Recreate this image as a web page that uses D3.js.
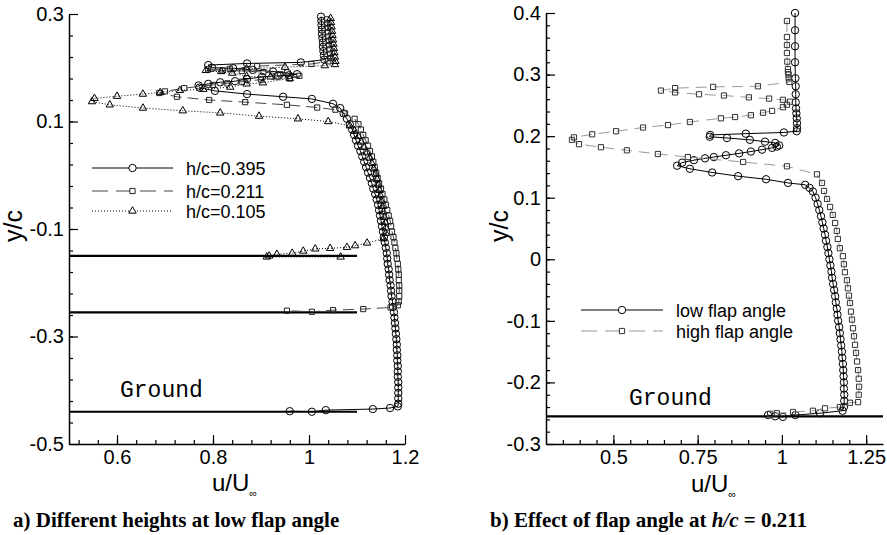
<!DOCTYPE html>
<html>
<head>
<meta charset="utf-8">
<script src="https://d3js.org/d3.v7.min.js"></script>
<style>
  body { margin: 0; background: #fff; }
  svg { display: block; font-family: "Liberation Sans", Arial, Helvetica, sans-serif; }
  .tick text { font-size: 20px; fill: #000; }
  .domain { stroke: #000; stroke-width: 1.5; }
  .tick line { stroke: #000; stroke-width: 1.2; }
</style>
</head>
<body>
<div id="root"></div>
<script>
// ---- panel a) different heights, low flap angle  [u/Uinf, y/c]
const hc395 = [
  [1.025, 0.295], [1.026, 0.287], [1.026, 0.279], [1.027, 0.271], [1.027, 0.263], [1.028, 0.255], [1.029, 0.247],
  [1.029, 0.239], [1.030, 0.231], [1.031, 0.223], [1.032, 0.215],
  [0.983, 0.210], [0.871, 0.208], [0.790, 0.205],
  [0.798, 0.200], [0.842, 0.199], [0.883, 0.196], [0.925, 0.193], [0.955, 0.190], [0.975, 0.188],
  [0.958, 0.186], [0.935, 0.185], [0.902, 0.183], [0.871, 0.179], [0.846, 0.175], [0.815, 0.173], [0.790, 0.170], [0.770, 0.167],
  [0.772, 0.163], [0.804, 0.157], [0.871, 0.151], [0.946, 0.146], [1.006, 0.142], [1.050, 0.133],
  [1.065, 0.125], [1.072, 0.115], [1.079, 0.105], [1.085, 0.095], [1.090, 0.085], [1.094, 0.075], [1.098, 0.065],
  [1.102, 0.055], [1.107, 0.045], [1.111, 0.035], [1.115, 0.025], [1.119, 0.015], [1.123, 0.005], [1.127, -0.005],
  [1.131, -0.015], [1.134, -0.025], [1.138, -0.035], [1.141, -0.045], [1.144, -0.055], [1.146, -0.065], [1.148, -0.075],
  [1.150, -0.085], [1.152, -0.095], [1.154, -0.105], [1.156, -0.115], [1.158, -0.125], [1.160, -0.135], [1.162, -0.145],
  [1.163, -0.155], [1.164, -0.165], [1.166, -0.175], [1.167, -0.185], [1.168, -0.195], [1.170, -0.205], [1.171, -0.215],
  [1.172, -0.225], [1.174, -0.235], [1.175, -0.245], [1.177, -0.255], [1.178, -0.265], [1.179, -0.275], [1.180, -0.285],
  [1.181, -0.295], [1.182, -0.305], [1.183, -0.315], [1.183, -0.325], [1.184, -0.335], [1.184, -0.345], [1.185, -0.355],
  [1.185, -0.365], [1.185, -0.375], [1.186, -0.385], [1.186, -0.395], [1.186, -0.405], [1.186, -0.415], [1.186, -0.425],
  [1.185, -0.430], [1.169, -0.433], [1.133, -0.435], [1.035, -0.437], [1.006, -0.440], [0.960, -0.439]
];
const hc211 = [
  [1.038, 0.290], [1.038, 0.282], [1.039, 0.274], [1.039, 0.266], [1.040, 0.258], [1.041, 0.250], [1.042, 0.242],
  [1.043, 0.234], [1.044, 0.226], [1.045, 0.218], [1.040, 0.212],
  [1.005, 0.207], [0.892, 0.203], [0.835, 0.198], [0.790, 0.197],
  [0.820, 0.195], [0.860, 0.194], [0.905, 0.192], [0.940, 0.188], [0.980, 0.185],
  [0.960, 0.180], [0.900, 0.178], [0.860, 0.174], [0.830, 0.171], [0.800, 0.168], [0.740, 0.162], [0.700, 0.156], [0.688, 0.153],
  [0.725, 0.146], [0.792, 0.140], [0.867, 0.136], [0.954, 0.131], [1.017, 0.126], [1.055, 0.122],
  [1.075, 0.115], [1.095, 0.105], [1.103, 0.095], [1.108, 0.085], [1.113, 0.075], [1.118, 0.065], [1.123, 0.055],
  [1.127, 0.045], [1.131, 0.035], [1.134, 0.025], [1.137, 0.015], [1.140, 0.005], [1.143, -0.005], [1.146, -0.015],
  [1.150, -0.025], [1.153, -0.035], [1.157, -0.045], [1.160, -0.055], [1.163, -0.065], [1.166, -0.075], [1.169, -0.085],
  [1.171, -0.095], [1.173, -0.105], [1.176, -0.115], [1.178, -0.125], [1.180, -0.135], [1.182, -0.145], [1.183, -0.155],
  [1.185, -0.165], [1.186, -0.175], [1.187, -0.185], [1.187, -0.195], [1.188, -0.205], [1.188, -0.215], [1.188, -0.225],
  [1.187, -0.235], [1.185, -0.242],
  [1.170, -0.246], [1.113, -0.249], [1.050, -0.251], [1.006, -0.254], [0.954, -0.252]
];
const hc105 = [
  [1.045, 0.292], [1.046, 0.284], [1.047, 0.276], [1.048, 0.268], [1.049, 0.260], [1.050, 0.252], [1.051, 0.244],
  [1.052, 0.236], [1.053, 0.228], [1.054, 0.220], [1.055, 0.212], [1.054, 0.206],
  [1.033, 0.204], [0.950, 0.201], [0.870, 0.198], [0.817, 0.193], [0.785, 0.195],
  [0.840, 0.190], [0.870, 0.184], [0.920, 0.183], [0.960, 0.180],
  [0.904, 0.172], [0.870, 0.170], [0.836, 0.164], [0.780, 0.160], [0.731, 0.158],
  [0.690, 0.154], [0.654, 0.151], [0.600, 0.147], [0.553, 0.143],
  [0.548, 0.137], [0.585, 0.131], [0.654, 0.125], [0.737, 0.120], [0.815, 0.116], [0.896, 0.110], [0.977, 0.105], [1.040, 0.100],
  [1.085, 0.092], [1.095, 0.082], [1.103, 0.072], [1.109, 0.062], [1.115, 0.052], [1.121, 0.042], [1.126, 0.032],
  [1.131, 0.022], [1.135, 0.012], [1.139, 0.002], [1.142, -0.008], [1.145, -0.018], [1.147, -0.028], [1.149, -0.038],
  [1.151, -0.048], [1.153, -0.058], [1.155, -0.068], [1.157, -0.078], [1.159, -0.088], [1.160, -0.098], [1.160, -0.108],
  [1.155, -0.118],
  [1.121, -0.126], [1.096, -0.131], [1.079, -0.134], [1.044, -0.136], [1.013, -0.137], [0.988, -0.141], [0.965, -0.145],
  [0.933, -0.147], [0.917, -0.150], [0.912, -0.152], [1.066, -0.152]
];
const groundA = [-0.15, -0.255, -0.44];
const groundAExtent = [0.5, 1.1];
const xTicksA = [0.6, 0.8, 1, 1.2];
const xLabelsA = ["0.6", "0.8", "1", "1.2"];
const yTicksA = [0.3, 0.1, -0.1, -0.3, -0.5];
const yLabelsA = ["0.3", "0.1", "-0.1", "-0.3", "-0.5"];
const legendA = ["h/c=0.395", "h/c=0.211", "h/c=0.105"];

// ---- panel b) effect of flap angle at h/c = 0.211
const lowFlap = [
  [1.039, 0.400], [1.039, 0.372], [1.039, 0.346], [1.039, 0.320], [1.040, 0.294], [1.041, 0.281], [1.041, 0.268],
  [1.041, 0.255], [1.042, 0.245], [1.043, 0.237], [1.044, 0.229], [1.045, 0.221], [1.045, 0.213], [1.044, 0.208],
  [1.006, 0.206], [0.893, 0.204], [0.787, 0.202], [0.786, 0.199],
  [0.837, 0.197], [0.905, 0.194], [0.950, 0.191], [0.980, 0.189], [0.992, 0.185], [0.985, 0.183],
  [0.971, 0.181], [0.941, 0.178], [0.908, 0.175], [0.873, 0.172], [0.834, 0.169], [0.798, 0.166], [0.772, 0.164],
  [0.739, 0.161], [0.704, 0.157], [0.689, 0.152],
  [0.727, 0.147], [0.793, 0.141], [0.870, 0.135], [0.953, 0.130], [1.018, 0.124], [1.069, 0.121], [1.082, 0.116],
  [1.092, 0.110], [1.100, 0.100], [1.106, 0.090], [1.111, 0.080], [1.116, 0.070], [1.120, 0.060], [1.124, 0.050],
  [1.128, 0.040], [1.131, 0.030], [1.135, 0.020], [1.138, 0.010], [1.141, 0.000], [1.144, -0.010], [1.147, -0.020],
  [1.149, -0.030], [1.152, -0.040], [1.155, -0.050], [1.158, -0.060], [1.160, -0.070], [1.163, -0.080], [1.165, -0.090],
  [1.167, -0.100], [1.170, -0.110], [1.172, -0.120], [1.174, -0.130], [1.176, -0.140], [1.178, -0.150], [1.179, -0.160],
  [1.181, -0.170], [1.182, -0.180], [1.183, -0.190], [1.184, -0.200], [1.184, -0.210], [1.185, -0.220], [1.185, -0.230],
  [1.184, -0.240],
  [1.180, -0.246], [1.113, -0.250], [1.040, -0.253], [1.003, -0.256], [0.980, -0.255], [0.959, -0.253]
];
const highFlap = [
  [1.015, 0.387], [1.015, 0.361], [1.015, 0.348], [1.015, 0.335], [1.016, 0.321], [1.018, 0.309], [1.018, 0.304],
  [1.020, 0.300], [1.020, 0.294], [1.022, 0.288],
  [0.929, 0.281], [0.796, 0.280], [0.683, 0.278], [0.641, 0.274],
  [0.683, 0.271], [0.754, 0.268], [0.828, 0.266], [0.902, 0.263], [0.962, 0.261], [1.003, 0.259], [1.024, 0.256],
  [1.015, 0.251], [1.003, 0.247], [0.971, 0.241], [0.944, 0.238], [0.908, 0.234], [0.861, 0.231], [0.819, 0.229],
  [0.727, 0.223], [0.662, 0.218], [0.588, 0.214], [0.508, 0.208], [0.437, 0.203], [0.383, 0.198], [0.377, 0.194],
  [0.398, 0.187], [0.463, 0.182], [0.540, 0.177], [0.632, 0.171], [0.721, 0.166], [0.885, 0.158], [1.015, 0.151],
  [1.104, 0.138],
  [1.119, 0.124], [1.125, 0.111], [1.134, 0.098], [1.143, 0.085], [1.151, 0.072], [1.158, 0.059], [1.163, 0.046],
  [1.166, 0.033], [1.172, 0.018], [1.181, 0.005], [1.184, -0.008], [1.187, -0.021], [1.193, -0.034], [1.196, -0.047],
  [1.199, -0.059], [1.202, -0.071], [1.205, -0.085], [1.208, -0.098], [1.211, -0.112], [1.214, -0.125], [1.217, -0.139],
  [1.220, -0.152], [1.223, -0.166], [1.226, -0.180], [1.228, -0.194], [1.229, -0.207], [1.228, -0.220], [1.226, -0.232],
  [1.202, -0.233], [1.172, -0.240], [1.128, -0.242], [1.092, -0.246], [1.033, -0.248], [0.985, -0.250], [0.965, -0.251]
];
const groundB = [-0.255];
const groundBExtent = [0.3, 1.3];
const xTicksB = [0.5, 0.75, 1, 1.25];
const xLabelsB = ["0.5", "0.75", "1", "1.25"];
const yTicksB = [0.4, 0.3, 0.2, 0.1, 0, -0.1, -0.2, -0.3];
const yLabelsB = ["0.4", "0.3", "0.2", "0.1", "0", "-0.1", "-0.2", "-0.3"];
const legendB = ["low flap angle", "high flap angle"];

const W = 887, H = 535;
const svg = d3.select('#root').append('svg').attr('width', W).attr('height', H);

const styles = {
  circle: { dash: null, line: '#000', mark: '#000' },
  squareA: { dash: '11,6', line: '#444', mark: '#222' },
  triangle: { dash: '1,2', line: '#000', mark: '#000' },
  squareB: { dash: '11,7', line: '#999', mark: '#333' }
};

const drawMarker = (g, shape, cx, cy) => {
  if (shape === 'circle') {
    g.append('circle').attr('cx', cx).attr('cy', cy).attr('r', 3.7);
  } else {
    const type = shape === 'square' ? d3.symbolSquare : d3.symbolTriangle;
    const size = shape === 'square' ? 27 : 24;
    g.append('path').attr('d', d3.symbol(type, size)()).attr('transform', `translate(${cx},${cy})`);
  }
};

const makePanel = (cfg) => {
  const x = d3.scaleLinear().domain(cfg.xd).range(cfg.xr);
  const y = d3.scaleLinear().domain(cfg.yd).range(cfg.yr);
  const g = svg.append('g');
  const bottom = cfg.yr[0];
  const left = cfg.xr[0];

  // minor ticks
  g.append('g').attr('transform', `translate(0,${bottom})`)
    .call(d3.axisBottom(x).tickValues(cfg.xMinor).tickSize(-4).tickFormat(''))
    .call(a => a.select('.domain').remove());
  g.append('g').attr('transform', `translate(${left},0)`)
    .call(d3.axisLeft(y).tickValues(cfg.yMinor).tickSize(-4).tickFormat(''))
    .call(a => a.select('.domain').remove());
  // major ticks
  g.append('g').attr('transform', `translate(0,${bottom})`)
    .call(d3.axisBottom(x).tickValues(cfg.xTicks).tickSizeInner(-9).tickSizeOuter(0).tickPadding(6)
      .tickFormat((d, i) => cfg.xLabels[i]));
  g.append('g').attr('transform', `translate(${left},0)`)
    .call(d3.axisLeft(y).tickValues(cfg.yTicks).tickSizeInner(-9).tickSizeOuter(0).tickPadding(5)
      .tickFormat((d, i) => cfg.yLabels[i]));
  g.selectAll('.tick text').attr('font-family', null);

  // ground lines
  g.selectAll('line.ground').data(cfg.ground).enter().append('line')
    .attr('class', 'ground')
    .attr('x1', x(cfg.groundExtent[0])).attr('x2', x(cfg.groundExtent[1]))
    .attr('y1', d => y(d)).attr('y2', d => y(d))
    .attr('stroke', '#000').attr('stroke-width', 2.2);

  const line = d3.line().x(d => x(d[0])).y(d => y(d[1]));
  cfg.series.forEach(s => {
    const st = styles[s.style];
    g.append('path').datum(s.data).attr('d', line)
      .attr('fill', 'none').attr('stroke', st.line).attr('stroke-width', 1)
      .attr('stroke-dasharray', st.dash);
    const mg = g.append('g').attr('fill', 'none').attr('stroke', st.mark).attr('stroke-width', 1);
    s.data.forEach(d => drawMarker(mg, s.shape, x(d[0]), y(d[1])));
  });

  // legend
  cfg.legend.forEach((label, i) => {
    const s = cfg.series[i];
    const st = styles[s.style];
    const ly = cfg.legendY[i];
    g.append('line').attr('x1', cfg.legendX[0]).attr('x2', cfg.legendX[1]).attr('y1', ly).attr('y2', ly)
      .attr('stroke', st.line).attr('stroke-width', 1).attr('stroke-dasharray', st.dash ? (s.style === 'triangle' ? '1,2' : '16,8') : null);
    const mg = g.append('g').attr('fill', '#fff').attr('stroke', st.mark);
    drawMarker(mg, s.shape, (cfg.legendX[0] + cfg.legendX[1]) / 2, ly);
    g.append('text').attr('x', cfg.legendX[1] + 13).attr('y', ly + 6.5)
      .attr('font-size', 18).text(label);
  });

  // Ground label
  g.append('text').attr('x', cfg.groundLabel[0]).attr('y', cfg.groundLabel[1])
    .attr('font-family', '"Liberation Mono", "Courier New", monospace').attr('font-size', 23)
    .text('Ground');

  // axis titles
  const xt = g.append('text').attr('x', cfg.xTitle[0]).attr('y', cfg.xTitle[1]).attr('font-size', 24);
  xt.append('tspan').text('u/U');
  xt.append('tspan').attr('font-size', 11).attr('dy', 6).text('∞');
  g.append('text').attr('transform', `translate(${cfg.yTitle[0]},${cfg.yTitle[1]}) rotate(-90)`)
    .attr('text-anchor', 'middle').attr('font-size', 25).text('y/c');
};

makePanel({
  xd: [0.5, 1.2], xr: [69, 405], yd: [-0.5, 0.3], yr: [444, 14],
  xTicks: xTicksA, xLabels: xLabelsA, yTicks: yTicksA, yLabels: yLabelsA,
  xMinor: d3.range(0.52, 1.2, 0.04), yMinor: d3.range(-0.46, 0.3, 0.04),
  ground: groundA, groundExtent: groundAExtent,
  series: [
    { data: hc395, shape: 'circle', style: 'circle' },
    { data: hc211, shape: 'square', style: 'squareA' },
    { data: hc105, shape: 'triangle', style: 'triangle' }
  ],
  legend: legendA, legendX: [92, 173], legendY: [168, 191, 211],
  groundLabel: [120, 397], xTitle: [212, 491], yTitle: [22, 226]
});

makePanel({
  xd: [0.3, 1.3], xr: [546, 883], yd: [-0.3, 0.4], yr: [444, 13],
  xTicks: xTicksB, xLabels: xLabelsB, yTicks: yTicksB, yLabels: yLabelsB,
  xMinor: d3.range(0.35, 1.3, 0.05), yMinor: d3.range(-0.28, 0.4, 0.02),
  ground: groundB, groundExtent: groundBExtent,
  series: [
    { data: lowFlap, shape: 'circle', style: 'circle' },
    { data: highFlap, shape: 'square', style: 'squareB' }
  ],
  legend: legendB, legendX: [581, 663], legendY: [310, 331],
  groundLabel: [629, 405], xTitle: [691, 492], yTitle: [508, 226]
});

// captions
const cap = svg.append('g').attr('font-family', '"Liberation Serif", "Times New Roman", serif')
  .attr('font-weight', 'bold').attr('font-size', 21);
cap.append('text').attr('x', 13).attr('y', 527).text('a) Different heights at low flap angle');
const cb = cap.append('text').attr('x', 490).attr('y', 527);
cb.append('tspan').text('b) Effect of flap angle at ');
cb.append('tspan').attr('font-style', 'italic').text('h/c');
cb.append('tspan').text(' = 0.211');
</script>
</body>
</html>
